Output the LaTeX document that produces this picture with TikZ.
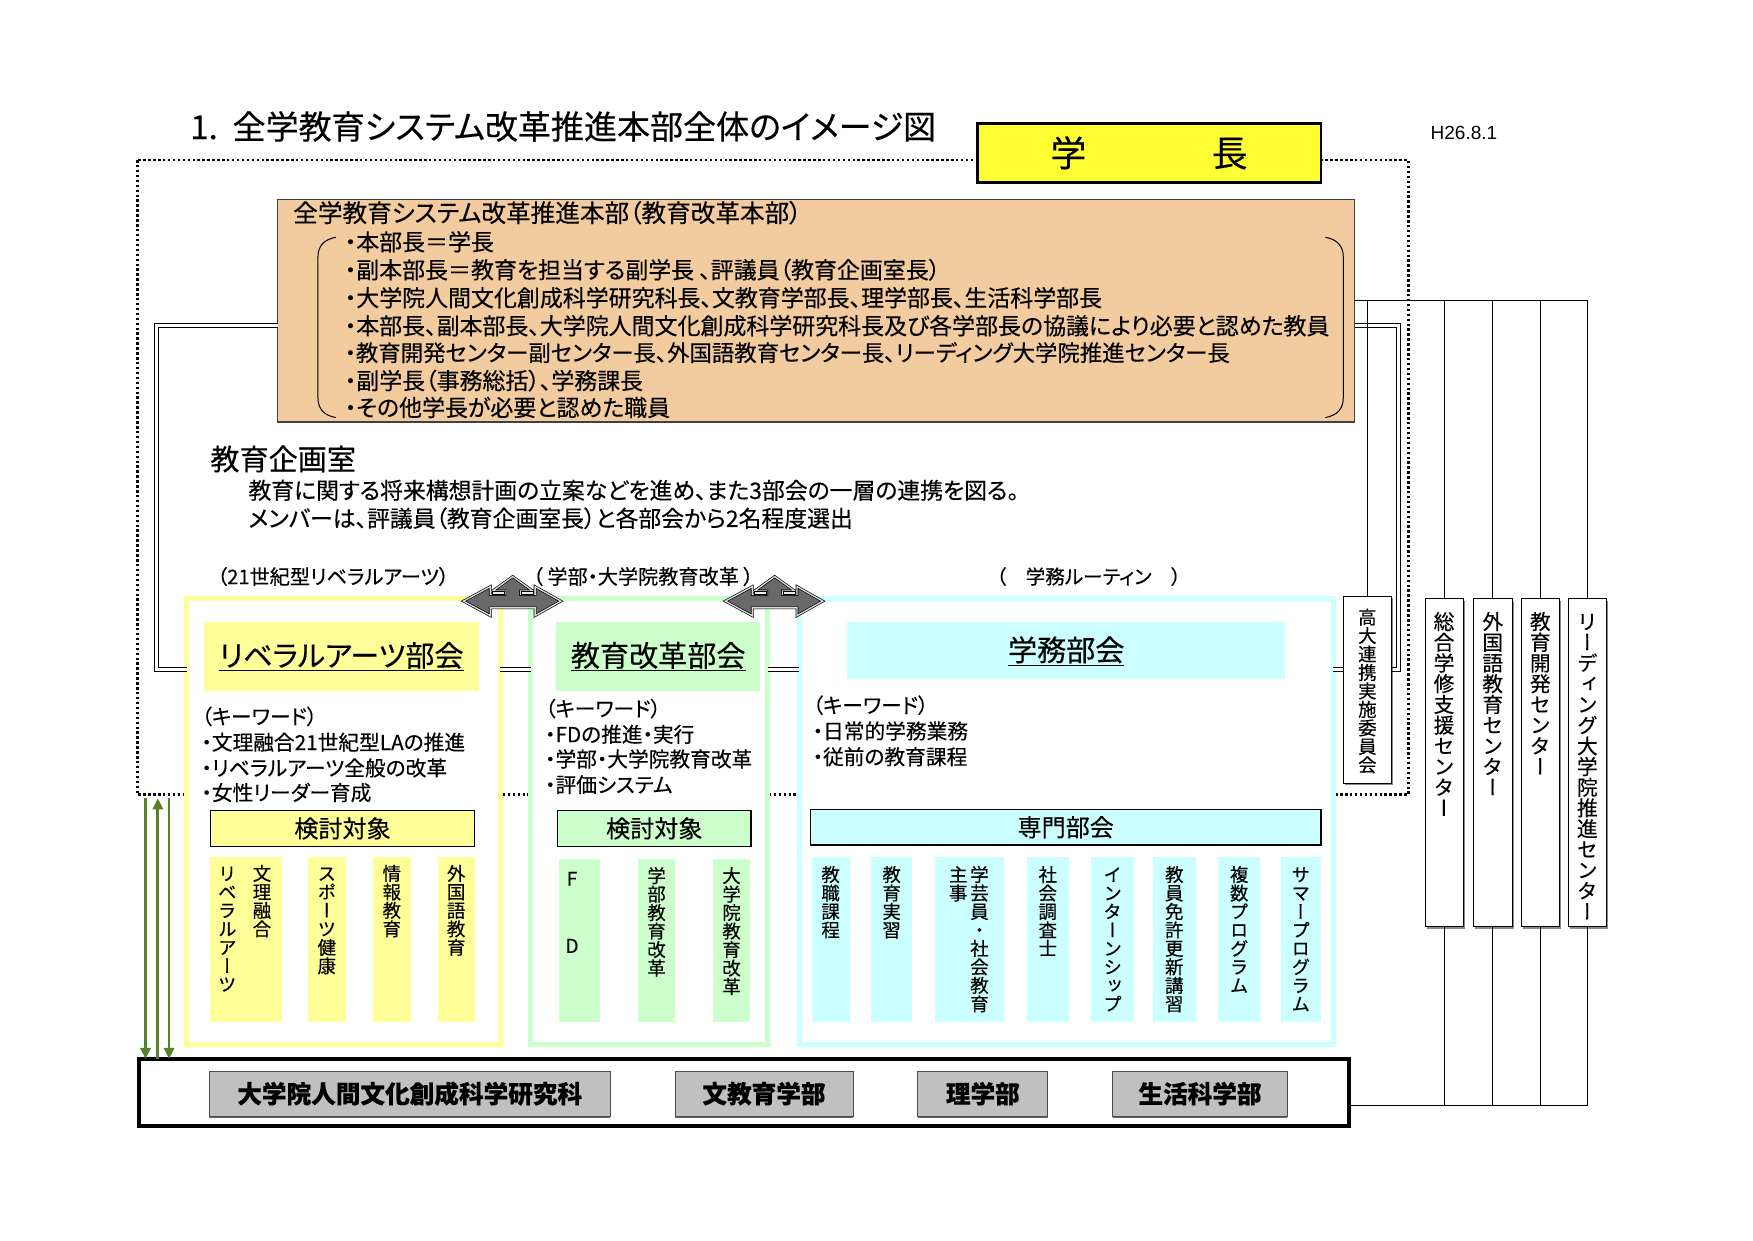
\documentclass[tikz,border=0pt]{standalone}
\usepackage{fontspec}
\setmainfont{Noto Sans CJK JP}[RawFeature=+palt,FakeBold=0.3]
\newfontfamily\jpv{Noto Sans CJK JP}[RawFeature=+vert,FakeBold=0.3]
\newfontfamily\lat{Liberation Sans}
\usetikzlibrary{arrows.meta,shadows}
\definecolor{orangebg}{RGB}{242,204,158}
\definecolor{ycho}{RGB}{255,255,51}
\definecolor{ly}{RGB}{255,255,153}
\definecolor{lg}{RGB}{204,255,204}
\definecolor{lc}{RGB}{204,255,255}
\definecolor{gbox}{RGB}{192,192,192}
\definecolor{arrg}{RGB}{84,130,40}
\definecolor{arrfill}{RGB}{105,105,105}
\newcommand\fs[1]{\fontsize{#1}{#1}\selectfont}
\newcommand\vch[1]{\hbox to 1em{\hss\vrule height .88em depth .12em width 0pt\relax#1\hss}}
\ExplSyntaxOn
\NewDocumentCommand\vtxt{O{1}m}
 {
  \vbox
   {
    \baselineskip=#1em
    \lineskiplimit=-\maxdimen
    \lineskip=0pt
    \tl_map_inline:nn {#2} { \vch{##1} }
   }
 }
\ExplSyntaxOff
\newcommand\lrup[2]{\begin{scope}[shift={(#1,#2)}]
 \draw[lrar] (0,22) -- (24,9) -- (24,16) -- (37,16) -- (37,13) -- (26,13) -- (44,0) -- (62,13) -- (51,13) -- (51,16) -- (64,16) -- (64,9) -- (87,22) -- (64,35) -- (64,28) -- (24,28) -- (24,35) -- cycle;
 \draw[lrwin] (25.5,13.3) rectangle (36.5,16);
 \draw[lrwin] (51.5,13.3) rectangle (62.5,16);
\end{scope}}
\begin{document}
\begin{tikzpicture}[x=1pt,y=-1pt,
  R/.style={rectangle,inner sep=0pt,outer sep=0pt,anchor=north west},
  tx/.style={inner sep=0pt,outer sep=0pt,anchor=west},
  vt/.style={inner sep=0pt,outer sep=0pt,anchor=north},
  dotline/.style={draw=black,line width=2.4pt,dash pattern=on 2.2pt off 2.2pt},
  dbl/.style={draw=black,double=white,double distance=2.4pt,line width=0.9pt},
  thinl/.style={draw=black,line width=0.9pt},
  sect/.style={R,fill=white,line width=4.5pt},
  sidebox/.style={R,draw=black,line width=0.9pt,fill=white,drop shadow={shadow xshift=1.5pt,shadow yshift=-1.5pt,fill=black,opacity=0.45}},
  dept/.style={R,draw=black!70,line width=0.8pt,fill=gbox,drop shadow={shadow xshift=0pt,shadow yshift=-1.5pt,fill=black,opacity=0.6},font=\bfseries\fs{22}},
  kbox/.style={R,draw=black,line width=1.3pt,font=\fs{21.5}},
  garr/.style={draw=arrg,line width=2.6pt,-{Triangle[width=9pt,length=10pt]}},
  lrar/.style={draw=black,double=gray!30,double distance=1.2pt,line width=0.6pt,fill=arrfill},
  lrwin/.style={draw=black,line width=0.5pt,fill=gray!15},
  ]
\useasboundingbox (0,0) rectangle (1566,1108);
% helper coordinates
\coordinate (H) at (0,291);
\coordinate (L) at (0,598);
\coordinate (T) at (0,268);
\coordinate (B) at (0,988);
\coordinate (dTL) at (123,143);
\coordinate (dBR) at (1258,710);
\coordinate (dlx) at (140,0);
\coordinate (drx) at (1249,0);

% dotted outer frame
\draw[dotline] (dTL) rectangle (dBR);

% title and date
\node[tx] (title) at (170,113) {\fs{29.5}1.\hspace{0.45em}全学教育システム改革推進本部全体のイメージ図};
\node[tx] (date) at (1278,119) {\lat\fs{17}H26.8.1};

% main boxes (needed for connectors)
\node[R,fill=orangebg,draw=black!75,line width=1pt,minimum width=962,minimum height=199] (hq) at (248,178) {};

% section frames
\node[sect,draw=ly,minimum width=280,minimum height=398] (yl) at (167,535) {};
\node[sect,draw=lg,minimum width=212,minimum height=398] (gr) at (474,535) {};
\node[sect,draw=lc,minimum width=477,minimum height=398] (cy) at (714,535) {};

% double-line connectors
\draw[dbl] (hq.west |- H) -| (dlx |- L) -- (yl.west |- L);
\draw[dbl] (yl.east |- L) -- (gr.west |- L);
\draw[dbl] (gr.east |- L) -- (cy.west |- L);
\draw[dbl] (cy.east |- L) -- (drx |- L) |- (hq.east |- H);

% right-side boxes
\node[sidebox,minimum width=43,minimum height=167] (kd) at (1200,533) {};
\node[sidebox,minimum width=34,minimum height=293] (so) at (1273,535) {};
\node[sidebox,minimum width=35,minimum height=293] (ga) at (1316,535) {};
\node[sidebox,minimum width=34,minimum height=293] (kk) at (1359,535) {};
\node[sidebox,minimum width=34,minimum height=293] (ld) at (1401,535) {};

% bottom box
\node[R,draw=black,line width=4pt,fill=white,minimum width=1081,minimum height=60] (bot) at (124,946) {};

% thin connectors on the right
\draw[thinl] (hq.east |- T) -- (ld.north |- T);
\draw[thinl] (kd.north |- T) -- (kd.north);
\draw[thinl] (so.north |- T) -- (so.north);
\draw[thinl] (ga.north |- T) -- (ga.north);
\draw[thinl] (kk.north |- T) -- (kk.north);
\draw[thinl] (ld.north |- T) -- (ld.north);
\draw[thinl] (bot.east |- B) -- (ld.south |- B);
\draw[thinl] (so.south) -- (so.south |- B);
\draw[thinl] (ga.south) -- (ga.south |- B);
\draw[thinl] (kk.south) -- (kk.south |- B);
\draw[thinl] (ld.south) -- (ld.south |- B);

% right-box texts
\node[vt] (kdt) at ([yshift=-10pt]kd.north) {\jpv\fs{16.5}\vtxt{高大連携実施委員会}};
\node[vt] (sot) at ([yshift=-11pt]so.north) {\jpv\fs{18.5}\vtxt{総合学修支援センター}};
\node[vt] (gat) at ([yshift=-11pt]ga.north) {\jpv\fs{18.5}\vtxt{外国語教育センター}};
\node[vt] (kkt) at ([yshift=-11pt]kk.north) {\jpv\fs{18.5}\vtxt{教育開発センター}};
\node[vt] (ldt) at ([yshift=-11pt]ld.north) {\jpv\fs{18.5}\vtxt{リーディング大学院推進センター}};

% 学長 box on top of the dotted line
\node[R,fill=ycho,draw=black,line width=2.5pt,minimum width=307,minimum height=53,font=\fs{32}] (gc) at (873,110) {学\hspace{3.5em}長};

% HQ texts
\node[tx] (hqh) at (262,190) {\fs{22}全学教育システム改革推進本部（教育改革本部）};
\node[tx] (hq1) at (308,216) {\fs{20.5}・本部長＝学長};
\node[tx] (hq2) at (308,241) {\fs{20.5}・副本部長＝教育を担当する副学長 、評議員（教育企画室長）};
\node[tx] (hq3) at (308,266) {\fs{20.5}・大学院人間文化創成科学研究科長、文教育学部長、理学部長、生活科学部長};
\node[tx] (hq4) at (308,291) {\fs{20.5}・本部長、副本部長、大学院人間文化創成科学研究科長及び各学部長の協議により必要と認めた教員};
\node[tx] (hq5) at (308,315) {\fs{20}・教育開発センター副センター長、外国語教育センター長、リーディング大学院推進センター長};
\node[tx] (hq6) at (308,340) {\fs{20.5}・副学長（事務総括）、学務課長};
\node[tx] (hq7) at (308,364) {\fs{20.5}・その他学長が必要と認めた職員};
\draw[line width=0.9pt] (300,212) .. controls (289,214) and (284,220) .. (284,230) -- (284,355) .. controls (284,365) and (289,371) .. (300,373);
\draw[line width=0.9pt] (1184,212) .. controls (1195,214) and (1200,220) .. (1200,230) -- (1200,355) .. controls (1200,365) and (1195,371) .. (1184,373);

% 教育企画室
\node[tx] (kk0) at (188,410) {\fs{26}教育企画室};
\node[tx] (kk1) at (222,438) {\fs{20.4}教育に関する将来構想計画の立案などを進め、また3部会の一層の連携を図る。};
\node[tx] (kk2) at (222,463) {\fs{20.4}メンバーは、評議員（教育企画室長）と各部会から2名程度選出};

% labels above sections
\node[tx] (lb1) at (194,515) {\fs{18}（21世紀型リベラルアーツ）};
\node[tx] (lb2) at (476,515) {\fs{18}（ 学部・大学院教育改革 ）};
\node[tx] (lb3) at (890,515) {\fs{17.5}（　学務ルーティン　）};

% arrows between sections
\lrup{414}{515}
\lrup{648}{515}

% ---- yellow section
\node[R,fill=ly,minimum width=246,minimum height=61,font=\fs{26}] (ylt) at (182,556) {\underline{リベラルアーツ部会}};
\node[tx] (yk0) at (180,640) {\fs{18.5}（キーワード）};
\node[tx] (yk1) at (180,663) {\fs{18.5}・文理融合21世紀型LAの推進};
\node[tx] (yk2) at (180,686) {\fs{18.5}・リベラルアーツ全般の改革};
\node[tx] (yk3) at (180,708) {\fs{18.5}・女性リーダー育成};
\node[kbox,fill=ly,minimum width=236,minimum height=32] (ykt) at (188,724) {検討対象};
\node[R,fill=ly,minimum width=64,minimum height=147] (y1) at (188,766) {};
\node[R,fill=ly,minimum width=34,minimum height=147] (y2) at (275,766) {};
\node[R,fill=ly,minimum width=34,minimum height=147] (y3) at (333,766) {};
\node[R,fill=ly,minimum width=33,minimum height=147] (y4) at (391,766) {};
\node[vt] (y1a) at ([xshift=14pt,yshift=-6pt]y1.north) {\jpv\fs{16.5}\vtxt{文理融合}};
\node[vt] (y1b) at ([xshift=-17pt,yshift=-6pt]y1.north) {\jpv\fs{16.5}\vtxt{リベラルアーツ}};
\node[vt] (y2t) at ([yshift=-6pt]y2.north) {\jpv\fs{16.5}\vtxt{スポーツ健康}};
\node[vt] (y3t) at ([yshift=-6pt]y3.north) {\jpv\fs{16.5}\vtxt{情報教育}};
\node[vt] (y4t) at ([yshift=-6pt]y4.north) {\jpv\fs{16.5}\vtxt{外国語教育}};

% ---- green section
\node[R,fill=lg,minimum width=182,minimum height=61,font=\fs{26}] (grt) at (497,556) {\underline{教育改革部会}};
\node[tx] (gk0) at (487,633) {\fs{18.5}（キーワード）};
\node[tx] (gk1) at (487,656) {\fs{18.5}・FDの推進・実行};
\node[tx] (gk2) at (487,678) {\fs{18.5}・学部・大学院教育改革};
\node[tx] (gk3) at (487,701) {\fs{18.5}・評価システム};
\node[kbox,fill=lg,minimum width=173,minimum height=32] (gkt) at (498,724) {検討対象};
\node[R,fill=lg,minimum width=37,minimum height=146] (g1) at (499,767) {};
\node[R,fill=lg,minimum width=33,minimum height=146] (g2) at (570,767) {};
\node[R,fill=lg,minimum width=33,minimum height=146] (g3) at (637,767) {};
\node[inner sep=0pt] (g1f) at (511,785) {\fs{17}F};
\node[inner sep=0pt] (g1d) at (511,845) {\fs{17}D};
\node[vt] (g2t) at ([yshift=-7pt]g2.north) {\jpv\fs{16.5}\vtxt{学部教育改革}};
\node[vt] (g3t) at ([yshift=-7pt]g3.north) {\jpv\fs{16.5}\vtxt{大学院教育改革}};

% ---- cyan section
\node[R,fill=lc,minimum width=391,minimum height=51,font=\fs{26}] (cyt) at (757,556) {\underline{学務部会}};
\node[tx] (ck0) at (726,630) {\fs{18.5}（キーワード）};
\node[tx] (ck1) at (726,653) {\fs{18.5}・日常的学務業務};
\node[tx] (ck2) at (726,676) {\fs{18.5}・従前の教育課程};
\node[kbox,fill=lc,minimum width=456,minimum height=32] (smb) at (724,723) {専門部会};
\node[R,fill=lc,minimum width=34,minimum height=147] (c1) at (725,766) {};
\node[R,fill=lc,minimum width=37,minimum height=147] (c2) at (778,766) {};
\node[R,fill=lc,minimum width=62,minimum height=147] (c3) at (835,766) {};
\node[R,fill=lc,minimum width=38,minimum height=147] (c4) at (917,766) {};
\node[R,fill=lc,minimum width=38,minimum height=147] (c5) at (975,766) {};
\node[R,fill=lc,minimum width=38,minimum height=147] (c6) at (1030,766) {};
\node[R,fill=lc,minimum width=38,minimum height=147] (c7) at (1088,766) {};
\node[R,fill=lc,minimum width=36,minimum height=147] (c8) at (1144,766) {};
\node[vt] (c1t) at ([yshift=-7pt]c1.north) {\jpv\fs{16.5}\vtxt{教職課程}};
\node[vt] (c2t) at ([yshift=-7pt]c2.north) {\jpv\fs{16.5}\vtxt{教育実習}};
\node[vt] (c3a) at ([xshift=9pt,yshift=-7pt]c3.north) {\jpv\fs{16.5}\vtxt{学芸員・社会教育}};
\node[vt] (c3b) at ([xshift=-10pt,yshift=-7pt]c3.north) {\jpv\fs{16.5}\vtxt{主事}};
\node[vt] (c4t) at ([yshift=-7pt]c4.north) {\jpv\fs{16.5}\vtxt{社会調査士}};
\node[vt] (c5t) at ([yshift=-7pt]c5.north) {\jpv\fs{16.5}\vtxt{インターンシップ}};
\node[vt] (c6t) at ([yshift=-7pt]c6.north) {\jpv\fs{16.5}\vtxt{教員免許更新講習}};
\node[vt] (c7t) at ([yshift=-7pt]c7.north) {\jpv\fs{16.5}\vtxt{複数プログラム}};
\node[vt] (c8t) at ([yshift=-7pt]c8.north) {\jpv\fs{16.5}\vtxt{サマープログラム}};

% bottom departments
\node[dept,minimum width=358,minimum height=40] (b1) at (187,957) {大学院人間文化創成科学研究科};
\node[dept,minimum width=159,minimum height=40] (b2) at (603,957) {文教育学部};
\node[dept,minimum width=116,minimum height=40] (b3) at (820,957) {理学部};
\node[dept,minimum width=156,minimum height=40] (b4) at (994,957) {生活科学部};

% green arrows
\coordinate (ga1) at (130,713);
\coordinate (ga2) at (141,713);
\coordinate (ga3) at (151,713);
\draw[garr] (ga1) -- (ga1 |- bot.north);
\draw[garr] (ga2 |- bot.north) -- (ga2);
\draw[garr] (ga3) -- (ga3 |- bot.north);
\end{tikzpicture}
\end{document}
